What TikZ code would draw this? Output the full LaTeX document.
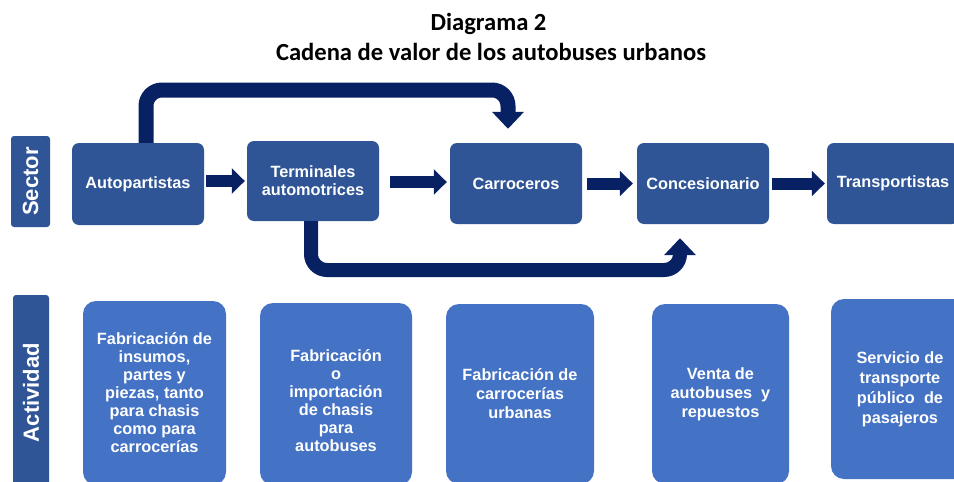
\documentclass[tikz,border=0pt]{standalone}
\usepackage{fontspec}
\setmainfont{Liberation Sans}
\newfontfamily\titlefont{Carlito}
\usetikzlibrary{arrows.meta}
\definecolor{darkbox}{HTML}{2F5597}
\definecolor{lightbox}{HTML}{4472C4}
\definecolor{navy}{HTML}{082163}
\begin{document}
\begin{tikzpicture}[x=1pt,y=-1pt,
  sectorbox/.style={fill=darkbox, rounded corners=7pt, text=white, align=center, inner sep=0pt,
    font=\bfseries\fontsize{16.3}{18}\selectfont, minimum width=132pt},
  actbox/.style={fill=lightbox, rounded corners=13pt, text=white, align=center, inner sep=0pt,
    font=\bfseries\fontsize{16.3}{18}\selectfont},
  acttext/.style={text=white, align=center, inner sep=0pt},
  rowlabel/.style={fill=darkbox, rounded corners=3pt, text=white, rotate=90, inner sep=0pt,
    font=\bfseries\fontsize{22}{24}\selectfont},
  blockarrow/.style={draw=navy, line width=12pt, -{Triangle[width=25pt,length=13pt]}},
  bigarrow/.style={draw=navy, line width=15pt, rounded corners=16pt, -{Triangle[width=31pt,length=17pt]}},
  titletext/.style={anchor=base, font=\titlefont\bfseries\fontsize{24.6}{30}\selectfont}
]
\useasboundingbox (0,0) rectangle (954,482);
\clip (0,0) rectangle (954,482);
\fill[white] (0,0) rectangle (954,482);

% title
\node[titletext] (t1) at (488.5,30) {Diagrama 2};
\node[titletext] (t2) at (491,60) {Cadena de valor de los autobuses urbanos};

% row labels
\node[rowlabel, minimum width=91pt, minimum height=39pt] (lsector) at (30.5,181.5) {Sector};
\node[rowlabel, minimum width=195pt, minimum height=36pt] (lact) at (31,392.5) {Actividad};

% sector boxes
\node[sectorbox, minimum height=82pt] (ap) at (138,184) {Autopartistas};
\node[sectorbox, minimum height=80pt] (tm) at (313,181) {Terminales\\automotrices};
\node[sectorbox, minimum height=81pt] (cr) at (516,183.5) {Carroceros};
\node[sectorbox, minimum height=81pt] (cs) at (703,183.5) {Concesionario};
\node[sectorbox, minimum height=81pt] (tr) at (893,183.5) {Transportistas};

% block arrows
\draw[blockarrow, shorten <=2pt, shorten >=2pt] ([yshift=3pt]ap.east) -- ([yshift=3pt]ap.east -| tm.west);
\draw[blockarrow, shorten <=11pt, shorten >=3pt] ([yshift=-1pt]tm.east) -- ([yshift=-1pt]tm.east -| cr.west);
\draw[blockarrow, shorten <=5pt, shorten >=4pt] (cr.east) -- (cs.west);
\draw[blockarrow, shorten <=3pt, shorten >=2pt] (cs.east) -- (tr.west);

% bypass arrows
\coordinate (topR) at (508,90);
\draw[bigarrow] ([xshift=8pt]ap.north) |- (topR) -- ([xshift=-8pt,yshift=14pt]cr.north);
\coordinate (botR) at (680,270);
\draw[bigarrow, line width=14pt] ([xshift=-2pt]tm.south) |- (botR) -- ([xshift=-23pt,yshift=-14pt]cs.south);

% activity boxes
\node[actbox, minimum width=143pt, minimum height=184pt] (a1) at (154.5,393)
  {Fabricación de\\insumos,\\partes y\\piezas, tanto\\para chasis\\como para\\carrocerías};
\node[actbox, minimum width=152pt, minimum height=182pt] (a2) at (336,394) {};
\node[acttext, font=\bfseries\fontsize{16.3}{18}\selectfont] (a2t) at (336,401)
  {Fabricación\\o\\importación\\de chasis\\para\\autobuses};
\node[actbox, minimum width=148pt, minimum height=180pt, font=\bfseries\fontsize{16.3}{19}\selectfont] (a3) at (520,394)
  {Fabricación de\\carrocerías\\urbanas};
\node[actbox, minimum width=137pt, minimum height=180pt, font=\bfseries\fontsize{16.3}{19}\selectfont] (a4) at (720.5,394)
  {Venta de\\autobuses~ y\\repuestos};
\node[actbox, minimum width=138pt, minimum height=180pt, font=\bfseries\fontsize{16.3}{20}\selectfont] (a5) at (900,389)
  {Servicio de\\transporte\\público~ de\\pasajeros};
\end{tikzpicture}
\end{document}
